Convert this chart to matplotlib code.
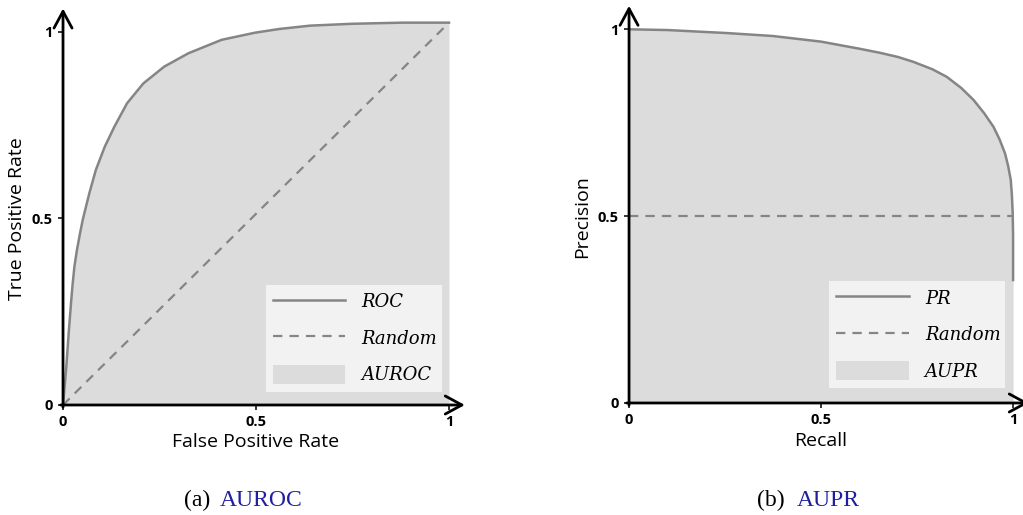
import matplotlib
matplotlib.use('Agg')
import matplotlib.pyplot as plt
import numpy as np

#ROC curve
fpr = [0, 0.0026, 0.0086, 0.0145, 0.0212, 0.025, 0.0295, 0.036, 0.044, 0.051, 0.068, 0.085,
       0.108, 0.133, 0.166, 0.208, 0.262, 0.325, 0.411, 0.497, 0.56, 0.64, 0.75, 0.88, 1.0]
tpr = [0, 0.031, 0.103, 0.190, 0.280, 0.325, 0.371, 0.415, 0.46, 0.496, 0.567, 0.63,
       0.692, 0.746, 0.809, 0.862, 0.907, 0.943, 0.979, 0.998, 1.008, 1.017, 1.022, 1.025, 1.025]
roc_random_x = [0, 1.0]
roc_random_y = [0, 1.025]

#PR curve
recall = [0, 0.1, 0.254, 0.375, 0.5, 0.60, 0.654, 0.70, 0.74, 0.79, 0.827, 0.865, 0.897,
          0.925, 0.949, 0.965, 0.979, 0.987, 0.994, 0.997, 0.999, 1.0, 1.0]
precision = [1.0, 0.998, 0.99, 0.982, 0.967, 0.948, 0.937, 0.926, 0.913, 0.893, 0.873, 0.843,
             0.811, 0.775, 0.739, 0.705, 0.668, 0.635, 0.597, 0.555, 0.508, 0.45, 0.329]
pr_random_x = [0, 1.0]
pr_random_y = [0.5, 0.5]

ticks = [0, 0.5, 1]
tick_labels = ['0', '0.5', '1']

line_col = '#858585'
fill_col = '#dcdcdc'

fig = plt.figure(figsize=(10.23, 5.15), dpi=100)
ax1 = fig.add_axes([0.0616, 0.2136, 0.3773, 0.7243])
ax2 = fig.add_axes([0.6149, 0.2175, 0.3754, 0.7256])


def style_axes(ax, xlabel, ylabel, xlab_y, ylab_x):
    #no box, arrows for the axes, bold tick labels
    ax.set_xlim(0, 1)
    ax.set_ylim(0, 1)
    for s in ax.spines.values():
        s.set_visible(False)
    ax.set_facecolor('none')
    ax.set_xticks(ticks, labels=tick_labels)
    ax.set_yticks(ticks, labels=tick_labels)
    ax.tick_params(direction='out', length=3.8, width=1.1, pad=3.5, color='k', labelsize=10.5)
    for lab in ax.get_xticklabels() + ax.get_yticklabels():
        lab.set_fontweight('bold')
        lab.set_fontfamily('Open Sans')
    arrow = dict(arrowstyle='->,head_length=1.2,head_width=0.65', lw=2.0, color='k',
                 shrinkA=0, shrinkB=0, mutation_scale=10)
    ax.annotate('', xy=(1.041, 0), xytext=(-0.006, 0), xycoords='axes fraction',
                arrowprops=arrow, annotation_clip=False)
    ax.annotate('', xy=(0, 1.063), xytext=(0, -0.006), xycoords='axes fraction',
                arrowprops=arrow, annotation_clip=False)
    ax.set_xlabel(xlabel, fontfamily='Open Sans', fontsize=14)
    ax.set_ylabel(ylabel, fontfamily='Open Sans', fontsize=14)
    ax.xaxis.set_label_coords(0.5, xlab_y)
    ax.yaxis.set_label_coords(ylab_x, 0.5)


#(a) ROC
area1 = ax1.fill_between(fpr, tpr, 0, color=fill_col, lw=0, clip_on=False, zorder=1)
rnd1, = ax1.plot(roc_random_x, roc_random_y, ls='--', dashes=(4.2, 3.2), lw=1.6,
                 color=line_col, clip_on=False, zorder=2)
roc, = ax1.plot(fpr, tpr, lw=1.8, color=line_col, clip_on=False, zorder=3)
style_axes(ax1, 'False Positive Rate', 'True Positive Rate', -0.075, -0.095)

#(b) PR
area2 = ax2.fill_between(recall, precision, 0, color=fill_col, lw=0, clip_on=False, zorder=1)
rnd2, = ax2.plot(pr_random_x, pr_random_y, ls='--', dashes=(4.2, 3.2), lw=1.6,
                 color=line_col, clip_on=False, zorder=2)
pr, = ax2.plot(recall, precision, lw=1.8, color=line_col, clip_on=False, zorder=3)
style_axes(ax2, 'Recall', 'Precision', -0.077, -0.099)

leg_kw = dict(loc='upper left', mode='expand', handlelength=4.0, handleheight=1.2,
              handletextpad=0.9, labelspacing=0.95, borderpad=0.4, borderaxespad=0,
              frameon=True, fancybox=False, framealpha=1,
              prop={'family': 'DejaVu Serif', 'style': 'italic', 'size': 13})
leg1 = ax1.legend([roc, rnd1, area1], ['ROC', 'Random', 'AUROC'],
                  bbox_to_anchor=(0.526, 0.322, 0.456, 0.0), **leg_kw)
leg2 = ax2.legend([pr, rnd2, area2], ['PR', 'Random', 'AUPR'],
                  bbox_to_anchor=(0.521, 0.326, 0.458, 0.0), **leg_kw)
for leg in [leg1, leg2]:
    leg.get_frame().set_facecolor('#f2f2f2')
    leg.get_frame().set_edgecolor('none')
    leg.set_zorder(5)

#sub captions
cap = dict(fontfamily='Liberation Serif', fontsize=17, va='baseline')
fig.text(184 / 1023, 0.0175, '(a)', color='k', **cap)
fig.text(220 / 1023, 0.0175, 'AUROC', color='#1f1fa0', **cap)
fig.text(757 / 1023, 0.0175, '(b)', color='k', **cap)
fig.text(797 / 1023, 0.0175, 'AUPR', color='#1f1fa0', **cap)

fig.savefig('out.png', dpi=100)
